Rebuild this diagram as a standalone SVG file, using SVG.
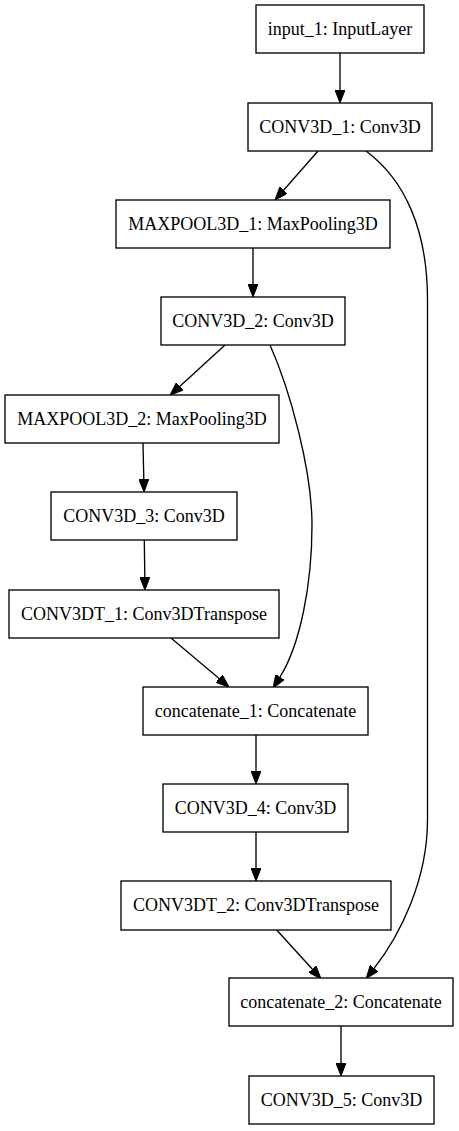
<svg xmlns="http://www.w3.org/2000/svg" width="459" height="1131" viewBox="0 0 459 1131">
<style>
.box{fill:#fff;stroke:#000;stroke-width:1.33}
.lbl{font-family:"Liberation Serif","Times New Roman",serif;font-size:18px;fill:#000;text-anchor:middle}
.edge{fill:none;stroke:#000;stroke-width:1.33}
</style>
<defs>
<marker id="ah" viewBox="0 0 13 10" refX="0" refY="5" markerWidth="13" markerHeight="10" markerUnits="userSpaceOnUse" orient="auto">
<path d="M0,0 L13,5 L0,10 z" fill="#000" stroke="#000" stroke-width="1"/>
</marker>
</defs>
<rect width="459" height="1131" fill="#fff"/>
<g id="connectors">
<path class="edge" marker-end="url(#ah)" d="M340,53 L340,90"/>
<path class="edge" marker-end="url(#ah)" d="M318,151 L283.6,190.2"/>
<path class="edge" marker-end="url(#ah)" d="M366,151 C405,180 427.5,230 427.5,300 L427.5,820 C427.5,880 400,935 374.2,968.2"/>
<path class="edge" marker-end="url(#ah)" d="M253,248 L253,284"/>
<path class="edge" marker-end="url(#ah)" d="M225,345 L179.7,386.4"/>
<path class="edge" marker-end="url(#ah)" d="M270,345 C290,390 312,470 312,525 C312,585 300,645 280,677"/>
<path class="edge" marker-end="url(#ah)" d="M143,443 L143.8,479"/>
<path class="edge" marker-end="url(#ah)" d="M144.3,540 L144.8,577"/>
<path class="edge" marker-end="url(#ah)" d="M171,638 L219.1,678.6"/>
<path class="edge" marker-end="url(#ah)" d="M256,735 L256,771"/>
<path class="edge" marker-end="url(#ah)" d="M256,832 L256,868"/>
<path class="edge" marker-end="url(#ah)" d="M276.7,930 L312.2,969"/>
<path class="edge" marker-end="url(#ah)" d="M341,1026 L341,1063"/>
</g>
<g id="input_1"><rect class="box" x="256" y="5" width="168" height="48"/><text class="lbl" x="340" y="35">input_1: InputLayer</text></g>
<g id="CONV3D_1"><rect class="box" x="248" y="103" width="184" height="48"/><text class="lbl" x="340" y="133">CONV3D_1: Conv3D</text></g>
<g id="MAXPOOL3D_1"><rect class="box" x="116" y="200" width="274" height="48"/><text class="lbl" x="253" y="230">MAXPOOL3D_1: MaxPooling3D</text></g>
<g id="CONV3D_2"><rect class="box" x="161" y="297" width="184" height="48"/><text class="lbl" x="253" y="327">CONV3D_2: Conv3D</text></g>
<g id="MAXPOOL3D_2"><rect class="box" x="5" y="395" width="274" height="48"/><text class="lbl" x="142" y="425">MAXPOOL3D_2: MaxPooling3D</text></g>
<g id="CONV3D_3"><rect class="box" x="51" y="492" width="186" height="48"/><text class="lbl" x="144" y="522">CONV3D_3: Conv3D</text></g>
<g id="CONV3DT_1"><rect class="box" x="9" y="590" width="270" height="48"/><text class="lbl" x="144" y="620">CONV3DT_1: Conv3DTranspose</text></g>
<g id="concatenate_1"><rect class="box" x="143" y="687" width="225" height="48"/><text class="lbl" x="255.5" y="717">concatenate_1: Concatenate</text></g>
<g id="CONV3D_4"><rect class="box" x="163" y="784" width="185" height="48"/><text class="lbl" x="255.5" y="814">CONV3D_4: Conv3D</text></g>
<g id="CONV3DT_2"><rect class="box" x="121" y="881" width="270" height="49"/><text class="lbl" x="256" y="911">CONV3DT_2: Conv3DTranspose</text></g>
<g id="concatenate_2"><rect class="box" x="229" y="978" width="224" height="48"/><text class="lbl" x="341" y="1008">concatenate_2: Concatenate</text></g>
<g id="CONV3D_5"><rect class="box" x="249" y="1076" width="185" height="48"/><text class="lbl" x="341.5" y="1106">CONV3D_5: Conv3D</text></g>
</svg>
